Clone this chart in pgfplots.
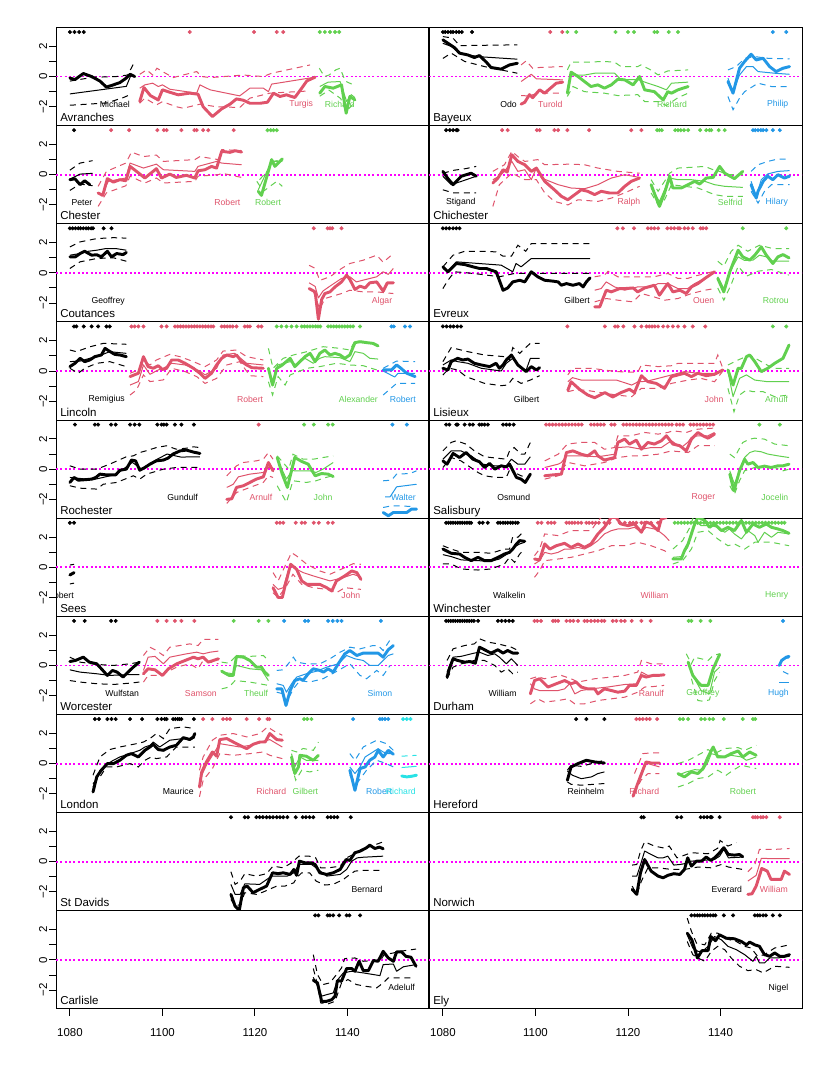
\documentclass[border=0pt]{standalone}
\usepackage{pgfplots}
\pgfplotsset{compat=1.18}
\usepackage{fontspec}
\setmainfont{Liberation Sans}
\definecolor{c2}{HTML}{DF536B}
\definecolor{c3}{HTML}{61D04F}
\definecolor{c4}{HTML}{2297E6}
\definecolor{c5}{HTML}{28E2E5}
\definecolor{mg}{HTML}{FF00FF}
\newcommand{\tkfont}{\fontsize{8.6pt}{10pt}\selectfont}
\newcommand{\pnfont}{\fontsize{8.6pt}{10pt}\selectfont}
\newcommand{\blfont}{\fontsize{6.5pt}{7.5pt}\selectfont}
\pgfplotsset{
 tk/.style={line width=2.2pt,line join=round,line cap=round},
 tn/.style={line width=0.75pt,line join=round},
 ds/.style={line width=0.75pt,dash pattern=on 4.5pt off 3.5pt},
 pan/.style={width=279.75pt,height=73.6pt,scale only axis,xmin=1077,xmax=1157.6,ymin=-3.25,ymax=3.25,
   axis line style={line width=0.75pt},xtick=\empty,ytick=\empty,anchor=north west,clip=true},
 lft/.style={ytick={-2,-1,0,1,2},yticklabels={−2,,0,,2},ytick pos=left,tick align=outside,major tick length=5pt,
   tick style={line width=0.75pt,black},yticklabel style={rotate=90,anchor=south,inner sep=1.4pt,font=\tkfont}},
 bot/.style={xtick={1080,1100,1120,1140},xticklabels={1080,1100,1120,1140},xtick pos=left,tick align=outside,major tick length=5pt,
   tick style={line width=0.75pt,black},xticklabel style={font=\tkfont,yshift=-6pt}},
}
\newcommand{\zl}{\addplot[mg,line width=1.4pt,line cap=butt,dash pattern=on 1.5pt off 1.75pt] coordinates {(1077,0) (1157.6,0)};}
\newcommand{\dts}[2]{\addplot[#1,only marks,mark=*,mark size=1.3pt] coordinates {#2};}
\newcommand{\srs}[5]{\addplot[#1,ds] coordinates {#4};\addplot[#1,ds] coordinates {#5};\addplot[#1,tn] coordinates {#3};\addplot[#1,tk] coordinates {#2};}
\newcommand{\bl}[3]{\node[anchor=east,inner sep=0pt,font=\blfont,text=#1] at (axis cs:#2,-1.85) {#3};}
\newcommand{\pn}[1]{\node[anchor=base west,inner sep=0pt,font=\pnfont,xshift=3pt,yshift=3pt] at (rel axis cs:0,0) {#1};}
\begin{document}
\begin{tikzpicture}
\path[use as bounding box] (0,0) rectangle (622.5pt,799.5pt);
% ---------------- Avranches
\begin{axis}[pan,lft,at={(42pt,778.875pt)}]
\zl
\dts{black}{(1080,2.95)(1081,2.95)(1082,2.95)(1083,2.95)}
\dts{c2}{(1105.9,2.95)(1119.8,2.95)(1124.7,2.95)(1126.1,2.95)}
\dts{c3}{(1134,2.95)(1135.1,2.95)(1136.2,2.95)(1137.3,2.95)(1138.2,2.95)}
\srs{black}{(1080,-0.1)(1081.1,-0.2)(1082.9,0.2)(1084.7,0)(1086.5,-0.3)(1087.9,-0.7)(1089.4,-0.55)(1090.8,-0.4)(1092.2,-0.1)(1093,0.15)(1094,0)}
{(1080,-1.15)(1092.2,-0.65)(1093.2,0.1)}
{(1080,-0.3)(1085,-0.05)(1090,0)(1092.5,0.1)(1094,1.0)}
{(1080,-1.9)(1088,-1.75)(1091.5,-1.4)(1093,-1.2)}
\srs{c2}{(1095.1,-1.65)(1096,-0.73)(1097.4,-1.26)(1099.1,-1.55)(1100,-0.88)(1101.6,-1.04)(1103.4,-1.21)(1105.9,-1.1)(1107.7,-1.17)(1108.8,-2.0)(1110.8,-2.65)(1112.8,-2.14)(1114.6,-1.83)(1116,-1.48)(1117.5,-1.57)(1118.9,-1.77)(1121.1,-1.77)(1122.7,-1.7)(1124,-1.1)(1125.4,-1.32)(1126.8,-1.21)(1128.6,-1.39)(1130.1,-0.77)(1131.2,-0.29)(1133,-0.04)}
{(1095.1,-0.77)(1096.2,-0.55)(1097.9,-0.44)(1099.1,-0.66)(1100,-0.55)(1101.6,-0.84)(1107.4,-1.1)(1108.1,-0.55)(1110.3,-0.88)(1116.7,-1.28)(1118.9,-0.77)(1121.8,-0.77)(1122.9,-1.0)(1123.6,-0.5)(1133,-0.04)}
{(1095.1,0.15)(1096.6,0.44)(1097.9,0.1)(1098.8,0.55)(1102.3,-0.07)(1107.4,0.33)(1108.5,0)(1110.3,-0.07)(1117.5,0.1)(1121.8,0)(1123.6,0.22)(1131.9,0.77)}
{(1095.1,-1.77)(1096.2,-1.43)(1098.7,-1.88)(1100,-1.66)(1103,-2.0)(1104.5,-2.1)(1108.1,-1.83)(1111.7,-2.0)(1116.7,-2.05)(1118.9,-1.43)(1123.2,-1.1)(1131.9,-0.95)}
\srs{c3}{(1134,-1.1)(1135.1,-0.66)(1136.9,-0.77)(1138.7,-0.55)(1139.7,-2.43)(1140.5,-1.32)(1141.6,-1.55)}
{(1134,-0.66)(1135.8,-0.37)(1138.4,-0.33)(1139.8,-1.65)(1140.8,-1.2)(1141.6,-1.4)}
{(1133.9,0.55)(1135,0)(1136,0.1)(1137.5,0.45)(1138.4,0.55)(1139.5,-0.3)(1141.6,-0.6)}
{(1134,-1.3)(1136,-0.9)(1138.5,-1.45)(1139.7,-2.3)(1141.6,-1.7)}
\bl{black}{1093}{Michael}\bl{c2}{1132.6}{Turgis}\bl{c3}{1141.6}{Richard}
\pn{Avranches}
\end{axis}
% ---------------- Bayeux
\begin{axis}[pan,at={(321.75pt,778.875pt)}]
\zl
\dts{black}{(1080,2.95)(1080.5,2.95)(1081.1,2.95)(1081.7,2.95)(1082.2,2.95)(1082.9,2.95)(1083.5,2.95)(1084.1,2.95)(1086.3,2.95)}
\dts{c2}{(1103.2,2.95)(1105.8,2.95)}
\dts{c3}{(1106.9,2.95)(1108.8,2.95)(1117.3,2.95)(1120,2.95)(1121.3,2.95)(1125.7,2.95)(1126.3,2.95)(1128.8,2.95)(1130.8,2.95)}
\dts{c4}{(1151.3,2.95)(1154.2,2.95)}
\srs{black}{(1080,2.43)(1081.1,2.2)(1082.5,1.92)(1083.6,1.55)(1085.4,1.43)(1086.8,1.26)(1087.9,1.39)(1089.4,0.95)(1090.4,0.6)(1092.6,0.49)(1094.4,0.77)(1096.1,0.88)}
{(1080,2.2)(1081.8,2.0)(1083.6,1.55)(1087.6,1.32)(1096.1,1.15)}
{(1080,2.65)(1082.2,2.54)(1083.6,2.05)(1096.1,2.1)}
{(1080,1.2)(1081.8,1.55)(1084.7,1.0)(1089,0.66)(1096.1,0.22)}
\srs{c2}{(1096.9,-1.83)(1097.7,-1.7)(1098.7,-1.2)(1099.4,-1.4)(1100.9,-0.88)(1102,-1.1)(1103.4,-0.73)(1104.5,-0.44)(1105.9,-0.37)}
{(1096.9,-0.33)(1099.1,0.15)(1100.2,-0.15)(1105.9,-0.22)}
{(1096.9,0.77)(1098,1.04)(1099.4,0.55)(1100.9,0.6)(1105.9,0.66)}
{(1096.9,-1.26)(1098.3,-1.28)(1100.9,-1.1)(1105.9,-1.1)}
\srs{c3}{(1106.9,-1.1)(1107.7,0.29)(1109.2,0)(1110.6,-0.33)(1112,-0.66)(1113.5,-0.55)(1114.9,-0.77)(1116.4,-0.55)(1117.8,-0.18)(1119.3,-0.22)(1121.1,-0.55)(1122.5,0)(1123.6,-0.88)(1125.7,-1.0)(1127.6,-1.55)(1128.6,-1.0)(1129.4,-1.1)(1130.8,-0.88)(1133,-0.66)}
{(1106.9,-0.88)(1107.7,0.1)(1110.6,0.1)(1112.8,0.22)(1117.1,0.22)(1118.5,-0.2)(1122.1,-0.2)(1124.3,-0.44)(1126.5,-0.66)(1128.3,-0.88)(1129.4,-0.44)(1133,-0.37)}
{(1106.9,0.44)(1107.7,0.95)(1110.6,0.95)(1114.9,1.0)(1117.1,0.95)(1118.5,0.66)(1122.1,0.66)(1122.8,0.77)(1124.9,0.44)(1126.5,0.11)(1128.6,0.37)(1133,0.44)}
{(1106.9,-1.32)(1108.1,-0.66)(1110.6,-1.0)(1114.9,-1.1)(1117.8,-1.26)(1122.1,-1.2)(1123.6,-1.66)(1126.5,-1.66)(1128.3,-1.92)(1130.8,-1.4)(1133,-1.1)}
\srs{c4}{(1141.6,-0.33)(1142.7,-1.1)(1144.1,0.55)(1145.2,1.0)(1146.6,1.48)(1147.7,1.1)(1149.2,1.21)(1150.6,0.66)(1152,0.33)(1153.5,0.55)(1154.9,0.66)}
{(1141.6,-0.11)(1142.7,-1.0)(1144.1,0.1)(1145.6,0.66)(1147,0.66)(1148.1,0.33)(1151.7,0.22)(1154.9,0.15)}
{(1141.6,0.44)(1143.4,0.66)(1145.2,1.2)(1147.4,1.32)(1150.2,1.21)(1154.9,1.17)}
{(1141.6,-1.32)(1142.7,-2.2)(1144.1,-1.43)(1145.2,-1.0)(1148.1,-0.44)(1151,-0.66)(1154.9,-0.66)}
\bl{black}{1096}{Odo}\bl{c2}{1105.9}{Turold}\bl{c3}{1132.8}{Richard}\bl{c4}{1154.7}{Philip}
\pn{Bayeux}
\end{axis}
% ---------------- Chester
\begin{axis}[pan,lft,at={(42pt,705.26pt)}]
\zl
\dts{black}{(1080.9,2.95)}
\dts{c2}{(1088.9,2.95)(1092.8,2.95)(1098.9,2.95)(1100.3,2.95)(1100.9,2.95)(1104.1,2.95)(1106.9,2.95)(1107.4,2.95)(1108.8,2.95)(1109.9,2.95)(1115.4,2.95)}
\dts{c3}{(1122.7,2.95)(1123.4,2.95)(1124,2.95)(1124.7,2.95)}
\srs{black}{(1080,-0.33)(1081.1,-0.27)(1082.2,-0.66)(1083.2,-0.4)(1084.3,-0.66)}
{(1080,-0.3)(1082.2,0.04)(1084.9,0.09)}
{(1080,0.3)(1082.2,0.77)(1084.9,0.93)}
{(1080,-1.04)(1082.2,-0.62)(1084.9,-0.73)}
\srs{c2}{(1086.1,-1.21)(1087.1,-1.37)(1088.1,-0.26)(1089.4,-0.49)(1090.8,-0.33)(1092.1,-0.4)(1093,0.55)(1094.4,0.22)(1096.2,-0.22)(1098.7,0.4)(1099.8,-0.22)(1101.6,0.04)(1103,-0.18)(1105.2,-0.04)(1107,-0.22)(1107.7,0.26)(1109.2,0.33)(1110.6,0.55)(1111.7,0.44)(1112.8,1.55)(1114.6,1.48)(1115.7,1.59)(1117.1,1.5)}
{(1087.1,-1.21)(1088.3,-0.44)(1092.1,-0.22)(1093,0.77)(1095.9,0.44)(1098.7,0.7)(1100.2,0.33)(1107,0.22)(1107.7,0.55)(1111.7,0.88)(1112.8,0.77)(1117.1,0.66)}
{(1086.1,-0.77)(1087.9,0.22)(1092.1,0.77)(1093.3,1.5)(1095.9,1.2)(1098.7,1.3)(1100.2,0.88)(1107,1.0)(1108.1,1.2)(1112.1,1.0)(1112.8,1.66)(1117.1,1.6)}
{(1086.1,-2.1)(1087.9,-1.2)(1092.1,-0.73)(1093,-0.1)(1096.2,-0.55)(1098.7,-0.22)(1100.2,-0.55)(1107,-0.44)(1107.7,-0.1)(1112.1,0)(1112.8,0.1)(1117.1,-0.18)}
\srs{c3}{(1120.7,-1.1)(1121.4,-1.37)(1123.6,1.0)(1124.3,0.55)(1125.9,1.04)}
{(1120.7,-1.0)(1123.6,0.88)(1125.9,0.88)}
{(1121,-0.33)(1123.2,0.44)(1124,0.88)(1125.9,1.0)}
{(1120.4,-0.44)(1121.8,-1.1)(1124.7,-0.44)(1125.9,-0.77)}
\bl{black}{1084.9}{Peter}\bl{c2}{1116.9}{Robert}\bl{c3}{1125.7}{Robert}
\pn{Chester}
\end{axis}
% ---------------- Chichester
\begin{axis}[pan,at={(321.75pt,705.26pt)}]
\zl
\dts{black}{(1080.7,2.95)(1081.5,2.95)(1082.2,2.95)(1082.9,2.95)(1083.2,2.95)}
\dts{c2}{(1092.8,2.95)(1094,2.95)(1100.3,2.95)(1100.9,2.95)(1104.1,2.95)(1104.9,2.95)(1106.9,2.95)(1111.6,2.95)(1120.7,2.95)(1122.9,2.95)}
\dts{c3}{(1126.3,2.95)(1126.8,2.95)(1127.3,2.95)(1130.2,2.95)(1130.8,2.95)(1131.4,2.95)(1132.1,2.95)(1133,2.95)(1135.6,2.95)(1136.9,2.95)(1137.6,2.95)(1138,2.95)(1139.6,2.95)(1140.9,2.95)}
\dts{c4}{(1147,2.95)(1147.5,2.95)(1148.1,2.95)(1148.7,2.95)(1149.2,2.95)(1149.9,2.95)(1151.3,2.95)(1152.8,2.95)}
\srs{black}{(1080,0.22)(1081,-0.22)(1082.2,-0.66)(1084,-0.1)(1086.1,0.1)(1087.2,-0.1)}
{(1080,-0.1)(1081.8,-0.66)(1084,-0.44)(1087.2,-0.1)}
{(1080,0.1)(1082.5,0.3)(1084.9,0.4)(1087.2,0.55)}
{(1080,-1.0)(1082.2,-1.2)(1087.2,-1.2)}
\srs{c2}{(1090.8,-0.55)(1091.9,-0.22)(1093,0.33)(1093.9,0.18)(1094.9,1.32)(1096.2,0.88)(1097.7,0.66)(1099.1,0.22)(1100.2,0.44)(1102,-0.44)(1104.1,-1.0)(1105.6,-1.43)(1107,-1.66)(1108.5,-1.32)(1109.9,-1.0)(1111.3,-1.1)(1112.8,-1.32)(1114.2,-1.1)(1116,-1.21)(1117.8,-1.21)(1119.3,-0.77)(1120.7,-0.44)(1122.5,-0.22)}
{(1090.8,-0.33)(1092.2,-0.1)(1093.3,0.22)(1094.9,0.88)(1096.2,0.22)(1097.7,0.33)(1099.1,-0.33)(1100.2,0.44)(1101.3,-0.22)(1104.9,-0.66)(1107.7,-0.88)(1110.6,-0.93)(1113.5,-0.66)(1116.4,-0.22)(1119.3,0)(1122.5,-0.18)}
{(1090.8,0.22)(1093.3,0.66)(1094.9,1.55)(1096.2,1.2)(1097.7,0.88)(1100.5,1.0)(1102,0.66)(1107.7,0.7)(1110.6,0.66)(1113.5,0.44)(1117.8,0.22)(1122.5,0.1)}
{(1090.8,-2.1)(1092.2,-0.66)(1094.9,0.1)(1097.7,-0.33)(1100.2,-0.33)(1102,-1.2)(1104.1,-1.77)(1107,-2.0)(1109.2,-1.66)(1113.5,-1.77)(1116.4,-1.55)(1119.3,-1.2)(1122.5,-0.77)}
\srs{c3}{(1125,-0.66)(1126.1,-1.55)(1126.8,-2.1)(1127.9,-1.21)(1129,-0.1)(1129.7,-0.88)(1131.5,-0.88)(1133,-0.66)(1134.4,-0.44)(1135.5,-0.62)(1136.9,-0.22)(1138.4,-0.18)(1139.8,0.55)(1140.9,0.1)(1143,-0.26)(1144.8,0.22)}
{(1125,-0.88)(1126.8,-1.77)(1129,-0.22)(1130.8,-0.33)(1133.7,-0.33)(1136.6,-0.44)(1138.7,-0.66)(1140.9,-0.77)(1144.8,-0.84)}
{(1125,-0.33)(1126.5,-1.1)(1127.9,-0.44)(1129,0.1)(1130.8,0.44)(1133.7,0.49)(1136.6,0.55)(1138.4,0.33)(1139.8,0.22)(1141.6,0)(1144.8,0)}
{(1125,-1.21)(1126.5,-2.0)(1127.9,-1.66)(1129.4,-0.66)(1132.2,-0.77)(1135.1,-0.88)(1136.9,-1.1)(1138.7,-1.32)(1140.9,-1.43)(1144.8,-1.43)}
\srs{c4}{(1146.6,-0.66)(1147.7,-1.55)(1148.1,-1.1)(1149.2,-0.44)(1150.2,-0.1)(1151.3,-0.33)(1152.4,0)(1153.8,-0.22)(1154.9,-0.1)}
{(1146.6,-0.44)(1147.7,-1.43)(1148.8,-0.33)(1150.2,0.05)(1152.4,0.22)(1154.9,0.27)}
{(1146.6,0.22)(1148.1,0.66)(1150.2,0.88)(1152.4,1.04)(1154.9,1.04)}
{(1146.6,-1.1)(1148.1,-1.88)(1149.5,-1.1)(1151,-0.66)(1154.9,-0.66)}
\bl{black}{1087.1}{Stigand}\bl{c2}{1122.7}{Ralph}\bl{c3}{1144.8}{Selfrid}\bl{c4}{1154.6}{Hilary}
\pn{Chichester}
\end{axis}
% ---------------- Coutances
\begin{axis}[pan,lft,at={(42pt,631.65pt)}]
\zl
\dts{black}{(1080,2.95)(1080.6,2.95)(1081.2,2.95)(1081.8,2.95)(1082.3,2.95)(1082.9,2.95)(1083.5,2.95)(1084,2.95)(1084.6,2.95)(1085,2.95)(1087.3,2.95)(1089,2.95)}
\dts{c2}{(1132.7,2.95)(1135.7,2.95)(1136.2,2.95)(1136.7,2.95)(1138.7,2.95)}
\srs{black}{(1080,1.06)(1081.2,1.06)(1082.2,1.28)(1083.2,1.43)(1084.7,1.17)(1085.8,1.2)(1086.8,1.06)(1088.1,1.43)(1089,1.06)(1090.1,1.28)(1091.5,1.21)(1092.2,1.35)}
{(1080,1.17)(1082.2,1.28)(1084,1.43)(1085.8,1.5)(1087.6,1.6)(1090.1,1.6)(1092.2,1.5)}
{(1080,1.72)(1082.2,2.05)(1085.8,2.27)(1089.4,2.33)(1092.2,2.3)}
{(1080,0.29)(1082.2,0.73)(1085.8,0.95)(1089.4,1.0)(1092.2,0.77)}
\srs{c2}{(1131.7,-1.04)(1133,-1.26)(1133.7,-3.07)(1134.4,-1.77)(1135.1,-1.37)(1136.2,-1.26)(1137.3,-0.93)(1138.7,-0.6)(1139.8,-0.15)(1140.5,-0.44)(1141.6,-1.1)(1142.7,-0.88)(1143.8,-1.0)(1144.8,-0.66)(1146.3,-0.6)(1147.7,-1.21)(1148.6,-0.66)(1149.9,-0.66)}
{(1131.7,-0.66)(1133,-0.9)(1133.7,-1.66)(1134.7,-1.2)(1136.2,-0.88)(1138.7,-0.37)(1140.5,-0.26)(1141.9,-0.6)(1143.4,-0.48)(1146.3,-0.26)(1147.7,0.07)(1148.8,-0.1)(1149.9,0.29)}
{(1131.7,0.5)(1133,0.3)(1134,-0.5)(1136.2,-0.26)(1138.7,0.29)(1140.5,0.62)(1143.4,0.84)(1146.3,1.17)(1147.7,0.7)(1149.9,1.28)}
{(1132.6,-1.21)(1134,-2.4)(1135.1,-1.7)(1138.7,-1.37)(1140.5,-1.15)(1143.4,-1.26)(1146.3,-1.26)(1149.9,-1.37)}
\bl{black}{1091.9}{Geoffrey}\bl{c2}{1149.7}{Algar}
\pn{Coutances}
\end{axis}
% ---------------- Evreux
\begin{axis}[pan,at={(321.75pt,631.65pt)}]
\zl
\dts{black}{(1080,2.95)(1080.7,2.95)(1081.4,2.95)(1082.2,2.95)(1082.9,2.95)(1083.6,2.95)}
\dts{c2}{(1117.7,2.95)(1118.9,2.95)(1121.3,2.95)(1124.3,2.95)(1125,2.95)(1125.7,2.95)(1126.5,2.95)(1128.5,2.95)(1129.3,2.95)(1130,2.95)(1130.8,2.95)(1131.2,2.95)(1132.2,2.95)(1133,2.95)(1134,2.95)(1135.7,2.95)(1136.2,2.95)(1136.9,2.95)}
\dts{c3}{(1144.8,2.95)(1154.2,2.95)}
\srs{black}{(1080,0.4)(1081.1,0.07)(1082.9,0.62)(1084.7,0.55)(1086.5,0.4)(1087.9,0.29)(1089.4,0.29)(1090.4,0.18)(1091.5,0.07)(1092.2,-0.49)(1093,-1.15)(1094,-1.0)(1095.1,-0.6)(1096.6,-0.49)(1097.7,-0.6)(1099.1,0.07)(1100.5,-0.26)(1102,-0.49)(1103.8,-0.55)(1104.9,-0.6)(1105.6,-0.82)(1106.7,-0.71)(1108.1,-0.82)(1109.5,-0.71)(1110.3,-0.93)(1111,-0.6)(1111.8,-0.33)}
{(1080,0.29)(1081.1,0.07)(1082.9,0.73)(1092.6,0.51)(1095.1,0.07)(1095.8,0.62)(1096.9,0.4)(1099.1,0.95)(1111.8,0.95)}
{(1080,0.4)(1082.2,1.17)(1084.7,1.43)(1088.3,1.43)(1091.5,1.39)(1093,1.1)(1094.8,1.1)(1096.2,1.83)(1097.9,1.43)(1099.1,1.94)(1111.8,1.94)}
{(1080,-1.04)(1081.1,-0.49)(1082.5,0.07)(1084.7,0.02)(1088.5,-0.11)(1092.2,-0.26)(1095.5,-0.04)(1099.1,-0.04)(1111.8,-0.04)}
\srs{c2}{(1112.8,-2.25)(1113.9,-2.25)(1115.3,-1.15)(1116.4,-1.26)(1118.2,-1.04)(1119.3,-1.04)(1121.1,-1.0)(1122.1,-1.26)(1123.6,-1.0)(1125.7,-0.82)(1126.8,-1.48)(1127.9,-1.0)(1128.6,-0.71)(1129.7,-1.26)(1131.2,-1.15)(1132.6,-1.37)(1133.7,-0.93)(1135.1,-0.71)(1136.6,-0.37)(1138.7,0.07)}
{(1112.8,-1.15)(1114.2,-1.04)(1115.3,-0.6)(1117.1,-0.93)(1119.3,-1.15)(1122.1,-0.93)(1125,-0.93)(1126.5,-0.71)(1128.6,-0.71)(1130.8,-1.04)(1132.9,-1.04)(1134.4,-0.71)(1136.6,-0.37)(1138.7,0.07)}
{(1112.8,-0.26)(1114.9,-0.15)(1115.7,0.1)(1117.8,-0.26)(1122.1,-0.26)(1125.7,-0.26)(1128.6,-0.04)(1130.8,-0.37)(1132.9,-0.37)(1134.4,-0.22)(1138.7,0.11)}
{(1112.8,-1.92)(1115.3,-1.7)(1117.8,-1.81)(1121.1,-1.92)(1122.9,-1.37)(1125.7,-1.6)(1127.9,-1.81)(1130.8,-1.7)(1133.7,-1.37)(1136.6,-1.15)(1138.7,-1.04)}
\srs{c3}{(1139.4,-0.37)(1140.7,-1.26)(1142,0.07)(1143.8,1.5)(1144.8,1.06)(1146.3,0.84)(1147.4,1.17)(1148.8,1.72)(1149.9,1.17)(1151.3,0.62)(1152.4,1.06)(1153.5,1.21)(1154.8,0.99)}
{(1139.4,-0.26)(1140.7,-1.04)(1142,0.07)(1143.8,1.06)(1145.2,0.82)(1147,0.84)(1148.4,1.17)(1149.9,1.06)(1151.3,0.77)(1154.8,0.77)}
{(1139.4,0.77)(1140.7,0.44)(1142.3,1.43)(1143.8,1.83)(1145.9,1.43)(1148.4,1.83)(1151.3,1.61)(1154.8,1.61)}
{(1139.4,-1.0)(1140.7,-1.81)(1142.3,-0.77)(1143.8,0.44)(1145.6,-0.22)(1148.1,0.11)(1151,0.22)(1154.8,-0.15)}
\bl{black}{1111.8}{Gilbert}\bl{c2}{1138.7}{Ouen}\bl{c3}{1154.8}{Rotrou}
\pn{Evreux}
\end{axis}
% ---------------- Lincoln
\begin{axis}[pan,lft,at={(42pt,558.04pt)}]
\zl
\dts{black}{(1080.9,2.95)(1081.4,2.95)(1083,2.95)(1084.7,2.95)(1086.1,2.95)(1087.9,2.95)(1088.6,2.95)}
\dts{c2}{(1093.3,2.95)(1094,2.95)(1094.8,2.95)(1095.9,2.95)(1099.8,2.95)(1100.9,2.95)(1102.7,2.95)(1103.3,2.95)(1103.9,2.95)(1104.5,2.95)(1105.1,2.95)(1105.7,2.95)(1106.3,2.95)(1106.9,2.95)(1107.5,2.95)(1108.1,2.95)(1108.7,2.95)(1109.3,2.95)(1109.9,2.95)(1110.5,2.95)(1111,2.95)(1112.8,2.95)(1113.4,2.95)(1114,2.95)(1114.6,2.95)(1115.2,2.95)(1116,2.95)(1117.8,2.95)(1118.4,2.95)(1118.9,2.95)(1120.7,2.95)(1121.4,2.95)}
\dts{c3}{(1124.7,2.95)(1125.7,2.95)(1126.8,2.95)(1127.9,2.95)(1129,2.95)(1130.1,2.95)(1130.7,2.95)(1131.3,2.95)(1131.9,2.95)(1132.5,2.95)(1133.1,2.95)(1133.6,2.95)(1134.1,2.95)(1135.8,2.95)(1136.4,2.95)(1137,2.95)(1137.6,2.95)(1138.2,2.95)(1138.8,2.95)(1139.4,2.95)(1140,2.95)(1140.6,2.95)(1141.2,2.95)(1142.7,2.95)}
\dts{c4}{(1149.5,2.95)(1150,2.95)(1152.4,2.95)(1153.5,2.95)}
\srs{black}{(1080,0.29)(1081.1,0.51)(1082.2,0.84)(1083.2,0.62)(1084.3,0.73)(1085.4,0.95)(1086.8,1.06)(1087.6,1.5)(1088.6,1.3)(1089.7,1.1)(1090.8,1.06)(1092.2,0.95)}
{(1080,0.62)(1082.2,0.66)(1084.3,0.84)(1086.8,1.06)(1088.6,1.28)(1092.2,1.17)}
{(1080,1.39)(1081.4,1.28)(1084.3,1.6)(1087.2,1.83)(1092.2,1.77)}
{(1080,0.18)(1081.8,-0.15)(1083.2,0.18)(1085.8,0.51)(1088.6,0.62)(1092.2,0.29)}
\srs{c2}{(1093,-0.37)(1094.8,-0.15)(1095.9,0.95)(1096.9,0.29)(1098,0.18)(1099.1,0.35)(1100,0.1)(1100.9,0.18)(1102,0.73)(1103.4,0.73)(1104.9,0.51)(1106.7,0.18)(1108.1,-0.15)(1109.2,-0.49)(1110.6,-0.15)(1111.7,0.4)(1112.8,0.84)(1113.9,1.06)(1115.3,0.95)(1116,1.06)(1117.1,0.62)(1118.2,0.4)(1119.3,0.22)(1121.8,0.18)}
{(1093,-0.93)(1094.8,-0.7)(1095.9,0.4)(1097.3,-0.22)(1099.1,0.07)(1100.2,0.18)(1102,0.51)(1104.9,0.4)(1108.1,0)(1109.2,-0.26)(1111.7,0.18)(1113.1,1.06)(1115.6,1.17)(1118.2,0.51)(1121.8,0.4)}
{(1093,-0.15)(1094.8,0.07)(1096.2,0.62)(1097.3,0.4)(1098.7,0.73)(1101.6,1.1)(1103.8,0.95)(1106.7,0.62)(1109.2,0.29)(1111.7,0.73)(1113.1,1.32)(1116,1.39)(1118.2,0.95)(1121.8,0.73)}
{(1093,-1.59)(1094.4,-1.26)(1095.9,-0.26)(1097.3,-0.7)(1100.2,-0.59)(1102,0.18)(1104.9,-0.04)(1107.4,-0.37)(1109.2,-0.82)(1111.7,-0.49)(1113.9,0.4)(1116.7,0.62)(1118.9,-0.31)(1121.8,-0.37)}
\srs{c3}{(1122.9,0.18)(1123.8,-0.93)(1124.7,0.18)(1125.7,0.35)(1127.6,0.84)(1128.6,0.29)(1129.7,0.62)(1130.8,0.95)(1131.9,1.17)(1133,0.62)(1134,1.17)(1135.1,1.39)(1136.2,1.06)(1137.3,1.17)(1138.4,1.06)(1139.4,0.84)(1140.5,1.06)(1141.6,1.88)(1142.7,1.94)(1144.1,1.88)(1145.5,1.83)(1146.6,1.66)}
{(1122.9,0.07)(1123.8,-0.71)(1124.9,0.4)(1127.6,0.62)(1129,0.4)(1130.8,0.84)(1132.6,0.51)(1134,0.84)(1135.1,0.95)(1138.4,0.88)(1140.5,0.62)(1141.6,1.28)(1143.4,1.17)(1144.8,0.84)(1146.6,0.79)}
{(1122.9,1.5)(1123.9,0.18)(1126.1,0.84)(1128.3,1.06)(1131.2,1.28)(1134.7,1.61)(1138.4,1.5)(1140.5,1.39)(1141.6,1.99)(1144.1,1.94)(1146.6,1.72)}
{(1122.9,-0.71)(1123.8,-1.59)(1125,-0.37)(1126.5,-0.93)(1127.6,-0.26)(1131.2,0.18)(1134,0.29)(1137.6,0.51)(1140.5,0.4)(1143.4,0.35)(1146.3,0.07)}
\srs{c4}{(1147.7,0.07)(1149.5,0.07)(1150.6,0.4)(1151.3,0.24)(1152.8,-0.15)(1154.6,-0.37)}
{(1147.7,0.0)(1150.2,-0.4)(1150.9,-0.15)(1154.6,-0.15)}
{(1147.7,0.18)(1150.6,0.66)(1154.6,0.62)}
{(1147.7,-1.59)(1150.6,-0.82)(1154.6,-0.82)}
\bl{black}{1091.9}{Remigius}\bl{c2}{1121.8}{Robert}\bl{c3}{1146.6}{Alexander}\bl{c4}{1154.8}{Robert}
\pn{Lincoln}
\end{axis}
% ---------------- Lisieux
\begin{axis}[pan,at={(321.75pt,558.04pt)}]
\zl
\dts{black}{(1080,2.95)(1080.8,2.95)(1081.6,2.95)(1082.3,2.95)(1083.1,2.95)(1083.9,2.95)}
\dts{c2}{(1106.9,2.95)(1115,2.95)(1117.2,2.95)(1117.8,2.95)(1119,2.95)(1121.4,2.95)(1122.9,2.95)(1124,2.95)(1124.6,2.95)(1125.2,2.95)(1125.8,2.95)(1126.5,2.95)(1127.6,2.95)(1128.6,2.95)(1129.7,2.95)(1130.8,2.95)(1132.2,2.95)(1134,2.95)(1136.7,2.95)}
\dts{c3}{(1151.3,2.95)(1154.2,2.95)}
\srs{black}{(1080,0.18)(1081.1,0.07)(1081.8,0.62)(1083.2,0.84)(1084.3,0.73)(1085.4,0.79)(1086.8,0.51)(1088.3,0.4)(1090.1,0.29)(1091.5,0.51)(1092.2,0.18)(1093,0.4)(1093.7,0.73)(1094.8,1.06)(1096.2,0.4)(1098,-0.04)(1099.1,0.29)(1100.2,0.07)(1100.9,0.22)}
{(1080,0.4)(1081.8,0.73)(1083.2,0.62)(1085.4,0.51)(1088.3,0.18)(1092.6,0)(1093.7,0.51)(1095.1,0.84)(1096.9,0.18)(1098,0.07)(1098.9,0.84)(1100.9,0.84)}
{(1080,0.62)(1081.8,1.55)(1085.4,1.28)(1089,1.06)(1093.3,0.95)(1094.4,0.73)(1095.1,1.55)(1096.6,1.17)(1097.7,1.5)(1098.9,1.83)(1100.9,1.83)}
{(1080,-0.26)(1081.4,0.18)(1083.2,0.07)(1085,-0.37)(1089,-0.82)(1092.6,-0.97)(1094,-0.93)(1095.1,-0.49)(1096.9,-0.82)(1098.9,-0.6)(1100.9,-0.31)}
\srs{c2}{(1107,-1.28)(1107.7,-0.71)(1109.5,-1.21)(1111.3,-1.59)(1112.8,-1.77)(1115,-1.43)(1116.7,-1.72)(1118.5,-1.43)(1120.3,-1.21)(1121.4,-1.43)(1122.9,-0.31)(1124.3,-0.71)(1126.1,-0.82)(1127.9,-1.15)(1129.4,-0.37)(1130.8,-0.26)(1132.2,-0.15)(1133.7,-0.37)(1135.1,-0.15)(1136.9,-0.31)(1138.7,-0.22)(1140.5,0.07)}
{(1107,-0.71)(1108,-0.44)(1109.9,-0.6)(1117.5,-0.6)(1120.8,-0.93)(1122.5,-0.66)(1122.9,-0.71)(1124.3,-0.66)(1126.5,-0.49)(1129.4,-0.26)(1132.2,-0.04)(1135.1,-0.15)(1138.7,-0.15)(1140.5,0.07)}
{(1107,-0.26)(1108,0.18)(1112.1,0.18)(1117.5,-0.04)(1122.1,-0.09)(1122.9,0.4)(1126.5,0.29)(1129.4,0.35)(1130.8,0.51)(1138.7,0.51)(1139.4,1.06)(1140.5,0.18)}
{(1107,-1.37)(1108.5,-1.26)(1110.6,-1.26)(1117.5,-1.59)(1120.8,-1.7)(1122.9,-1.15)(1126.5,-1.15)(1129.4,-0.82)(1133,-0.6)(1135.8,-0.49)(1138.7,-0.71)(1140.5,0)}
\srs{c3}{(1141.6,0.07)(1142.7,-0.93)(1143.8,0.18)(1144.5,0.18)(1145.6,0.95)(1146.3,1.06)(1147.4,0.62)(1148.8,-0.04)(1150.2,0.18)(1151.7,0.51)(1153.5,0.84)(1154.8,1.72)}
{(1141.6,-0.04)(1142.7,-1.7)(1144.1,-0.49)(1145.6,-0.26)(1147.4,-0.6)(1150.2,-0.71)(1154.8,-0.71)}
{(1141.6,0.4)(1143.8,0.73)(1146.3,1.06)(1148.8,0.62)(1151.3,0.18)(1154.8,0.18)}
{(1141.6,-1.15)(1142.9,-2.7)(1144.1,-1.59)(1145.6,-1.26)(1147,-1.37)(1149.2,-1.37)(1151.7,-1.7)(1154.8,-1.59)}
\bl{black}{1100.9}{Gilbert}\bl{c2}{1140.7}{John}\bl{c3}{1154.6}{Arnulf}
\pn{Lisieux}
\end{axis}
% ---------------- Rochester
\begin{axis}[pan,lft,at={(42pt,484.43pt)}]
\zl
\dts{black}{(1081.1,2.95)(1085.4,2.95)(1086.1,2.95)(1088.9,2.95)(1089.9,2.95)(1093,2.95)(1094,2.95)(1095,2.95)(1098.9,2.95)(1099.8,2.95)(1100.3,2.95)(1100.9,2.95)(1102.7,2.95)(1104.1,2.95)(1106.8,2.95)}
\dts{c2}{(1120.8,2.95)}
\dts{c3}{(1130.6,2.95)(1132.7,2.95)(1135.8,2.95)(1136.8,2.95)}
\dts{c4}{(1149.7,2.95)(1152.8,2.95)}
\srs{black}{(1080,-0.88)(1080.9,-0.55)(1081.8,-0.73)(1083.2,-0.7)(1084.7,-0.66)(1085.6,-0.55)(1086.5,-0.33)(1087.9,-0.38)(1089.9,-0.38)(1090.8,-0.07)(1092.2,0)(1093.3,0.6)(1094.2,0.55)(1095.1,-0.07)(1096.2,0.11)(1097.3,0.33)(1098.7,0.55)(1100.2,0.6)(1101.2,0.73)(1102.3,1.0)(1103.8,1.21)(1105.2,1.26)(1106.7,1.13)(1108.1,1.04)}
{(1080,-0.55)(1085,-0.7)(1090,-0.35)(1093.5,0.45)(1095.5,0.0)(1098.5,0.6)(1101,1.0)(1104,0.8)(1108.1,0.82)}
{(1080,0.22)(1082.2,0.0)(1085.8,0.0)(1088.6,0.33)(1092.2,0.82)(1093.7,0.88)(1095.1,1.1)(1096.4,1.21)(1098.7,1.43)(1100.9,1.55)(1103,1.32)(1105.2,1.39)(1106.7,1.48)(1108.1,1.43)}
{(1080,-1.1)(1082.2,-1.26)(1085.8,-1.32)(1087.2,-1.0)(1090.1,-0.88)(1093.7,-0.44)(1095.1,-0.66)(1096.6,-0.33)(1100.2,0)(1103,0.11)(1106.7,0.11)(1108.1,0.11)}
\srs{c2}{(1113.9,-2.0)(1115,-1.96)(1116,-1.21)(1117.5,-1.1)(1118.9,-0.88)(1120.3,-0.66)(1121.8,-0.51)(1122.9,0.44)(1123.9,-0.11)}
{(1113.9,-1.21)(1115.3,-1.0)(1116.4,-0.51)(1118.9,-0.33)(1121.8,-0.22)(1122.9,0.1)(1123.9,0.1)}
{(1113.9,-0.44)(1116,0.22)(1117.5,0.44)(1120.3,0.55)(1121.8,0.66)(1122.9,1.1)(1123.9,0.66)}
{(1113.9,-2.27)(1116,-1.55)(1118.9,-1.21)(1121.8,-0.88)(1122.9,-0.44)(1123.9,-0.55)}
\srs{c3}{(1124.8,0.77)(1125.9,-0.33)(1127,-1.21)(1128.6,0.77)(1130.1,0.51)(1131.5,0.33)(1133,-0.44)(1134.4,-0.29)(1135.8,-0.33)(1136.9,-0.49)}
{(1124.8,0.66)(1126.8,-0.66)(1128,-0.1)(1128.8,-0.11)(1131.8,-0.11)(1133.2,-0.22)(1134.7,0.0)(1136.9,0.44)}
{(1124.8,0.88)(1127.3,0.0)(1128.2,0.99)(1130.4,0.66)(1132.6,0.66)(1134.7,0.77)(1136.9,0.88)}
{(1124.8,-1.1)(1126.8,-2.2)(1128.2,-0.77)(1131.1,-0.88)(1133.2,-0.77)(1135.3,-0.55)(1136.9,-0.44)}
\srs{c4}{(1147.7,-2.87)(1148.8,-3.09)(1149.9,-2.87)(1152.8,-2.87)(1153.8,-2.65)(1154.9,-2.65)}
{(1148.1,-1.83)(1149.2,-1.83)(1150.6,-1.17)(1154.9,-1.0)}
{(1147.7,-0.77)(1149.5,-0.73)(1150.6,-0.33)(1153.5,-0.29)(1154.9,-0.11)}
{(1147.7,-2.54)(1149.5,-2.43)(1151.3,-2.43)(1154.5,-2.49)}
\bl{black}{1107.7}{Gundulf}\bl{c2}{1123.8}{Arnulf}\bl{c3}{1136.8}{John}\bl{c4}{1154.8}{Walter}
\pn{Rochester}
\end{axis}
% ---------------- Salisbury
\begin{axis}[pan,at={(321.75pt,484.43pt)}]
\zl
\dts{black}{(1080.7,2.95)(1081.4,2.95)(1082.9,2.95)(1083.2,2.95)(1084.7,2.95)(1085.8,2.95)(1086.5,2.95)(1087.9,2.95)(1088.4,2.95)(1089,2.95)(1089.7,2.95)(1093,2.95)(1093.7,2.95)(1094.4,2.95)(1095.3,2.95)}
\dts{c2}{(1102.3,2.95)(1103,2.95)(1103.7,2.95)(1104.4,2.95)(1105.1,2.95)(1105.8,2.95)(1106.5,2.95)(1107.2,2.95)(1107.9,2.95)(1108.6,2.95)(1109.3,2.95)(1110,2.95)(1112,2.95)(1112.7,2.95)(1113.4,2.95)(1114.1,2.95)(1114.8,2.95)(1116.4,2.95)(1117.1,2.95)(1119,2.95)(1119.7,2.95)(1120.4,2.95)(1121.1,2.95)(1121.8,2.95)(1122.5,2.95)(1123.2,2.95)(1123.9,2.95)(1124.6,2.95)(1125.3,2.95)(1126,2.95)(1126.7,2.95)(1127.4,2.95)(1128.1,2.95)(1128.8,2.95)(1129.5,2.95)(1130.5,2.95)(1131.2,2.95)(1131.9,2.95)(1133.5,2.95)(1134.2,2.95)(1134.9,2.95)(1135.6,2.95)(1136.3,2.95)(1137,2.95)(1137.7,2.95)(1138.4,2.95)}
\dts{c3}{(1148.4,2.95)(1152.8,2.95)}
\srs{black}{(1080,0.55)(1080.9,0.33)(1082.2,1.04)(1083.6,0.77)(1085,1.1)(1086.5,0.66)(1087.9,0.49)(1089,0.11)(1090.1,0.38)(1091.2,0)(1092.6,0.22)(1093.7,0.15)(1094.4,0.33)(1095.9,-0.55)(1096.9,-0.66)(1097.8,-0.88)(1098.9,-0.33)}
{(1080,0.66)(1081.8,1.21)(1083.9,1.21)(1086.1,0.88)(1088.6,0.33)(1091.2,0.22)(1093.7,0.22)(1094.8,0.66)(1096.2,0.33)(1097.7,0.33)(1098.9,0.82)}
{(1080,1.21)(1081.8,1.77)(1082.9,1.88)(1085,1.66)(1086.8,1.21)(1089,0.82)(1093.7,0.66)(1094.4,1.21)(1095.4,1.43)(1096.9,0.99)(1097.7,0.99)(1098.9,1.77)}
{(1080,0.11)(1081.8,0.77)(1083.9,0.55)(1087.6,-0.22)(1089,-0.44)(1091.5,-0.55)(1093.7,-0.55)(1094.8,0.22)(1095.5,-0.22)(1096.9,-0.44)(1098.4,-0.55)}
\srs{c2}{(1102,-0.44)(1103.8,-0.38)(1105.6,-0.33)(1106.7,1.1)(1108.1,1.21)(1109.9,0.99)(1111.3,0.88)(1112.8,1.21)(1113.5,0.88)(1114.9,0.6)(1117.1,0.77)(1117.8,1.77)(1119.3,1.99)(1120.3,1.66)(1121.8,1.92)(1122.9,1.32)(1124.3,1.77)(1125.7,1.66)(1127.2,1.88)(1128.3,2.21)(1129.7,1.66)(1131.2,1.55)(1132.6,1.21)(1133.7,1.99)(1135.1,2.43)(1136.2,2.21)(1137.3,2.05)(1138.7,2.32)}
{(1102,0.11)(1104.9,0.33)(1105.6,0.44)(1106.7,0.88)(1109.9,0.88)(1113.5,0.82)(1117.1,0.99)(1117.8,1.43)(1120,1.48)(1122.9,1.32)(1125,1.43)(1127.2,1.43)(1128.3,1.66)(1129.4,1.88)(1131.5,1.43)(1132.9,1.77)(1133.7,2.1)(1135.1,2.21)(1137.3,2.21)(1138.7,2.43)}
{(1102,0.55)(1104.9,0.99)(1106.9,1.66)(1109.9,1.77)(1112.8,1.77)(1114.9,1.32)(1117.1,1.43)(1117.8,2.21)(1120.7,2.21)(1123.6,2.43)(1126.5,2.32)(1128.6,2.43)(1129.7,2.54)(1132.6,2.43)(1133.7,2.54)(1135.1,2.65)(1138.7,2.72)}
{(1102,-0.66)(1104.9,-0.44)(1105.6,0)(1107.1,0.44)(1110.6,0.22)(1114.9,0.44)(1117.8,0.77)(1120.7,0.88)(1122.9,0.88)(1126.5,0.99)(1129.4,1.21)(1133,1.1)(1135.1,1.55)(1138.7,1.55)}
\srs{c3}{(1142,-0.33)(1142.9,-1.43)(1144.1,-0.11)(1145.2,0.66)(1145.9,0.33)(1147,0.44)(1148.1,0.11)(1149.5,0.2)(1150.9,0.11)(1152.4,0.22)(1153.5,0.22)(1154.8,0.33)}
{(1142,-0.11)(1143,-1.0)(1144.1,-0.11)(1145.2,0.77)(1146.3,1.1)(1147.4,1.21)(1148.8,1.15)(1150.2,1.0)(1152.4,0.88)(1154.8,0.77)}
{(1142,1.0)(1143,0.77)(1144.8,1.77)(1146.3,1.99)(1147.4,2.05)(1149.5,1.99)(1151.7,1.66)(1154.8,1.55)}
{(1142,-1.1)(1143,-1.66)(1144.1,-0.77)(1145.2,-0.11)(1147.4,0.11)(1149.5,0.22)(1151.7,0.11)(1153.5,-0.11)(1154.8,0)}
\bl{black}{1098.9}{Osmund}\bl{c2}{1138.9}{Roger}\bl{c3}{1154.7}{Jocelin}
\pn{Salisbury}
\end{axis}
% ---------------- Sees
\begin{axis}[pan,lft,at={(42pt,410.81pt)}]
\zl
\dts{black}{(1080,2.95)(1080.9,2.95)}
\dts{c2}{(1124.7,2.95)(1125.4,2.95)(1126.1,2.95)(1128.8,2.95)(1130.1,2.95)(1130.8,2.95)(1132.7,2.95)(1133.8,2.95)(1135.8,2.95)(1136.8,2.95)}
\srs{black}{(1080,-0.51)(1080.9,-0.35)}
{(1080,-0.45)(1080.9,-0.4)}
{(1080,0.15)(1080.9,0.2)}
{(1080,-1.1)(1080.9,-1.05)}
\srs{c2}{(1123.9,-1.35)(1125,-2.0)(1125.9,-2.0)(1126.8,-0.86)(1127.7,0.2)(1129,-0.13)(1130.1,-0.9)(1131.2,-1.13)(1132.6,-1.13)(1134,-1.13)(1135.5,-1.35)(1136.6,-1.57)(1137.6,-0.9)(1139.4,-0.57)(1140.9,-0.24)(1142,-0.35)(1142.9,-0.8)}
{(1123.9,-1.13)(1125,-1.46)(1126.1,-1.35)(1127.2,-0.24)(1127.9,0.2)(1129,-0.13)(1130.4,-0.35)(1132.6,-0.57)(1136.2,-0.9)(1139.1,-0.68)(1141.2,-0.46)(1142.9,-0.64)}
{(1123.9,-0.35)(1125,-0.9)(1126.5,0.09)(1127.9,0.97)(1129,0.75)(1131.2,0.2)(1134,-0.24)(1136.2,-0.46)(1139.4,-0.02)(1141.2,0.24)(1142.9,0.2)}
{(1123.9,-1.68)(1125,-2.0)(1126.8,-1.24)(1128.2,-0.46)(1130.1,-1.13)(1132.6,-1.35)(1135.5,-1.46)(1137.6,-1.68)(1139.4,-1.35)(1142.9,-1.46)}
\bl{black}{1080.9}{Robert}\bl{c2}{1142.8}{John}
\pn{Sees}
\end{axis}
% ---------------- Winchester
\begin{axis}[pan,at={(321.75pt,410.81pt)}]
\zl
\dts{black}{(1080.7,2.95)(1081.2,2.95)(1081.7,2.95)(1082.2,2.95)(1082.7,2.95)(1083.2,2.95)(1083.7,2.95)(1084.2,2.95)(1084.7,2.95)(1085.2,2.95)(1085.7,2.95)(1086.1,2.95)(1087.9,2.95)(1088.6,2.95)(1089.7,2.95)(1091.9,2.95)(1092.4,2.95)(1093,2.95)(1093.5,2.95)(1094,2.95)(1094.6,2.95)(1095.1,2.95)(1095.7,2.95)(1096.2,2.95)}
\dts{c2}{(1100.5,2.95)(1101.3,2.95)(1102.7,2.95)(1103.4,2.95)(1104.1,2.95)(1106.7,2.95)(1107.3,2.95)(1107.9,2.95)(1108.5,2.95)(1109.2,2.95)(1109.9,2.95)(1111,2.95)(1111.6,2.95)(1112.3,2.95)(1113,2.95)(1113.7,2.95)(1114.9,2.95)(1116,2.95)(1118.2,2.95)(1119.3,2.95)(1120.4,2.95)(1121.1,2.95)(1121.8,2.95)(1122.9,2.95)(1123.6,2.95)(1125,2.95)(1126.5,2.95)}
\dts{c3}{(1130.1,2.95)(1130.8,2.95)(1131.5,2.95)(1132.2,2.95)(1132.9,2.95)(1133.6,2.95)(1134.3,2.95)(1135,2.95)(1135.7,2.95)(1136.4,2.95)(1137.1,2.95)(1137.8,2.95)(1138.5,2.95)(1139.2,2.95)(1139.9,2.95)(1140.6,2.95)(1141.3,2.95)(1142,2.95)(1142.7,2.95)(1143.4,2.95)(1144.1,2.95)(1144.8,2.95)(1145.5,2.95)(1146.2,2.95)(1146.9,2.95)(1147.6,2.95)(1148.3,2.95)(1149,2.95)(1149.7,2.95)(1150.4,2.95)(1151.1,2.95)(1151.8,2.95)(1152.5,2.95)(1153.2,2.95)(1153.8,2.95)}
\srs{black}{(1080,1.21)(1081.8,0.93)(1083.6,0.88)(1084.7,0.66)(1086.1,0.44)(1087.6,0.66)(1089,0.44)(1090.4,0.44)(1091.9,0.66)(1093.3,0.88)(1094.4,0.99)(1095.1,1.21)(1095.9,1.55)(1096.6,1.77)(1097.7,1.72)}
{(1080,0.84)(1081.8,0.71)(1084,0.49)(1087.6,0.44)(1090.4,0.4)(1092.2,0.55)(1093.9,0.88)(1095.3,1.32)(1096.6,1.55)(1097.7,1.66)}
{(1080,1.43)(1081.8,1.21)(1084,0.99)(1087.6,0.99)(1090.4,0.93)(1093.3,1.21)(1094.4,1.21)(1095.1,2.03)(1096.2,1.99)(1097.3,2.32)}
{(1080,0.22)(1081.8,0.22)(1084,-0.11)(1087.6,-0.18)(1090.4,-0.11)(1093.3,0.22)(1094.4,0.66)(1095.5,0.33)(1096.6,0.88)(1097.3,1.1)}
\srs{c2}{(1099.8,0.55)(1100.9,0.49)(1102,1.55)(1103.1,1.21)(1104.5,1.43)(1106.3,1.59)(1107.7,1.32)(1109.2,1.55)(1110.6,1.32)(1112,1.55)(1113.5,2.21)(1114.9,2.65)(1116.4,3.31)(1117.4,3.31)(1118.5,2.87)(1120,2.76)(1121.4,2.87)(1122.9,2.32)(1123.9,3.0)(1125,2.87)(1126.5,2.43)(1127.2,3.2)(1128.3,3.3)}
{(1099.8,0.22)(1100.9,0.44)(1102,0.99)(1103.4,0.88)(1104.9,0.99)(1106.3,1.21)(1107.7,1.21)(1109.2,1.32)(1110.6,1.21)(1112,1.43)(1113.5,1.77)(1114.9,2.21)(1116.4,2.43)(1117.8,2.54)(1120,2.54)(1121.4,2.65)(1122.9,2.32)(1123.9,2.65)(1125.7,2.54)(1126.5,2.43)(1127.9,2.1)(1128.9,1.77)}
{(1099.8,0.77)(1100.9,1.21)(1102,2.21)(1104.9,2.1)(1107.7,2.43)(1112,2.43)(1113.5,3.1)(1115,3.5)(1128.9,3.5)}
{(1099.8,-0.66)(1100.9,-0.22)(1102,0.44)(1104.9,0.55)(1107.7,0.66)(1110.6,0.88)(1113.5,1.1)(1116.4,1.43)(1119.3,1.43)(1122.1,1.66)(1125,1.43)(1127.9,1.1)(1128.9,0.88)}
\srs{c3}{(1129.7,0.55)(1131.5,0.55)(1132.2,1.1)(1133,1.55)(1133.7,2.21)(1134.4,2.87)(1135.1,3.31)(1136.6,3.1)(1137.6,2.65)(1138.7,2.87)(1140.2,2.43)(1141.6,2.65)(1143,2.43)(1144.5,3.1)(1145.6,2.32)(1147,2.87)(1148.4,2.65)(1149.9,2.87)(1151,2.65)(1152.4,2.54)(1153.5,2.43)(1154.8,2.25)}
{(1129.7,0.66)(1131.5,0.71)(1132.9,1.32)(1133.7,2.32)(1134.8,2.98)(1135.8,2.76)(1137.9,2.76)(1139.4,2.65)(1140.9,2.32)(1141.9,2.54)(1143,2.21)(1144.5,1.88)(1145.9,2.43)(1147.4,2.1)(1148.1,1.66)(1149.5,2.32)(1151,1.99)(1152.4,2.32)(1154.8,2.21)}
{(1129.7,1.21)(1131.8,1.77)(1133.3,2.6)(1134.2,3.4)}
{(1129.7,0.22)(1131.8,0.44)(1133.7,1.21)(1135.1,2.32)(1137.3,2.43)(1139.4,1.88)(1141.6,1.43)(1143,1.55)(1145.2,1.21)(1147.4,1.66)(1151,1.66)(1154.8,1.43)}
\bl{black}{1097.9}{Walkelin}\bl{c2}{1128.8}{William}\bl{c3}{1154.7}{Henry}
\pn{Winchester}
\end{axis}
% ---------------- Worcester
\begin{axis}[pan,lft,at={(42pt,337.2pt)}]
\zl
\dts{black}{(1080.9,2.95)(1083.2,2.95)(1088.9,2.95)(1089.9,2.95)}
\dts{c2}{(1098.9,2.95)(1100.9,2.95)(1102.7,2.95)(1104.1,2.95)(1106.9,2.95)}
\dts{c3}{(1115.4,2.95)(1120.8,2.95)(1122.9,2.95)}
\dts{c4}{(1126.3,2.95)(1130.8,2.95)(1131.5,2.95)(1135.8,2.95)(1136.8,2.95)(1137.8,2.95)(1138.7,2.95)(1147.2,2.95)}
\srs{black}{(1080,0.26)(1081.2,0.33)(1082.9,0.55)(1084.2,0.22)(1085.8,0.11)(1086.8,-0.22)(1088.1,-0.66)(1089.2,-0.33)(1090.2,-0.44)(1091.5,-0.77)(1092.2,-0.55)(1093.7,-0.11)(1095,0.22)}
{(1080,-0.29)(1082.2,-0.44)(1085.8,-0.55)(1088.6,-0.66)(1091.5,-0.62)(1095,-0.6)}
{(1080,0.55)(1082.2,0.22)(1085.8,0.07)(1089.4,0)(1093,0.11)(1095,0.22)}
{(1080,-1.0)(1082.2,-1.1)(1085.8,-1.21)(1089.4,-1.26)(1093,-1.17)(1095,-1.1)}
\srs{c2}{(1095.9,-0.55)(1096.9,-0.22)(1098.4,-0.29)(1100,-0.66)(1101.3,-0.22)(1103.1,0.11)(1104.9,0.33)(1106.7,0.55)(1107.7,0.44)(1108.8,0.55)(1109.9,0.22)(1111,0.33)(1112.1,0.44)}
{(1095.9,-0.33)(1096.9,0.55)(1098.4,0.6)(1100.2,0.11)(1101.6,0.55)(1105.2,0.77)(1107.4,0.88)(1108.8,0.77)(1110.3,0.88)(1112.1,0.95)}
{(1095.9,0.66)(1097.3,1.21)(1098.7,0.99)(1100.2,0.66)(1101.6,1.21)(1105.9,1.43)(1107.7,1.32)(1108.8,1.72)(1112.1,1.72)}
{(1095.9,-1.1)(1096.9,-0.66)(1098.7,-0.66)(1100.2,-0.55)(1103.1,-0.11)(1105.9,0.11)(1107.7,-0.22)(1108.8,0.33)(1112.1,0.11)}
\srs{c3}{(1112.8,-0.38)(1114.4,-0.66)(1115.3,-0.66)(1116,0.6)(1117.5,0.55)(1118.9,0.33)(1120.3,-0.11)(1121.4,-0.11)(1122.1,-0.44)(1122.9,-0.66)}
{(1112.8,-0.44)(1115.3,-0.55)(1116,0)(1117.5,-0.11)(1118.9,-0.22)(1121.4,-0.29)(1122.9,-1.0)}
{(1112.8,0.22)(1114.4,0.15)(1116,0.66)(1118.9,0.6)(1121.8,0.66)(1122.9,0.33)}
{(1112.8,-1.55)(1114.4,-1.43)(1115.7,-1.0)(1118.9,-1.1)(1122.9,-1.32)}
\srs{c4}{(1124.7,-1.55)(1125.8,-1.55)(1126.7,-2.65)(1127.6,-1.66)(1128.6,-1.0)(1129.7,-0.88)(1130.4,-0.99)(1131.5,-0.55)(1132.6,-0.22)(1134,-0.33)(1134.8,-0.44)(1135.8,-0.22)(1136.9,-0.44)(1138,0.11)(1139.4,0.77)(1140.5,0.99)(1142,0.66)(1143.4,0.82)(1144.8,0.82)(1146.6,0.82)(1147.7,0.55)(1148.8,1.04)(1149.9,1.32)}
{(1124.7,-1.21)(1126.1,-1.32)(1126.8,-1.77)(1127.9,-1.21)(1129,-0.77)(1131.1,-0.55)(1133.3,-0.38)(1135.5,-0.11)(1138,0.11)(1139.8,0.66)(1141.6,0.44)(1143.4,0.33)(1144.8,0)(1146.6,0)(1147.7,0.33)(1148.8,0.66)(1149.9,0.77)}
{(1124.7,-0.33)(1126,-0.29)(1127.2,0.11)(1128.3,0.55)(1129,0.22)(1131.1,0.11)(1134,0.11)(1136.2,0.44)(1138.4,0.88)(1140.5,1.21)(1142.7,1.1)(1145.5,1.32)(1146.6,1.32)(1147.7,0.99)(1149.2,1.7)(1149.9,1.66)}
{(1124.7,-1.77)(1126.1,-1.88)(1126.8,-2.43)(1128.3,-1.55)(1129.7,-1.0)(1131.8,-1.1)(1134.7,-0.88)(1138,-0.33)(1140.5,0.11)(1142.7,-0.66)(1144.1,-0.88)(1146.3,-0.33)(1147.7,-0.66)(1149.2,0)}
\bl{black}{1095}{Wulfstan}\bl{c2}{1111.8}{Samson}\bl{c3}{1122.9}{Theulf}\bl{c4}{1149.7}{Simon}
\pn{Worcester}
\end{axis}
% ---------------- Durham
\begin{axis}[pan,at={(321.75pt,337.2pt)}]
\zl
\dts{black}{(1080.7,2.95)(1081.2,2.95)(1081.7,2.95)(1082.2,2.95)(1082.7,2.95)(1083.2,2.95)(1083.7,2.95)(1084.2,2.95)(1084.7,2.95)(1085.2,2.95)(1085.7,2.95)(1086.2,2.95)(1086.7,2.95)(1087.6,2.95)(1091.9,2.95)(1092.7,2.95)(1093.5,2.95)(1094.3,2.95)(1095.1,2.95)}
\dts{c2}{(1099.8,2.95)(1100.4,2.95)(1101.2,2.95)(1103.8,2.95)(1104.3,2.95)(1104.9,2.95)(1106.7,2.95)(1107.5,2.95)(1108.2,2.95)(1109.2,2.95)(1110.6,2.95)(1111.2,2.95)(1112,2.95)(1112.8,2.95)(1113.5,2.95)(1114.3,2.95)(1114.9,2.95)(1116.7,2.95)(1117.5,2.95)(1118.5,2.95)(1119.3,2.95)(1120.8,2.95)(1122.9,2.95)(1124.9,2.95)}
\dts{c3}{(1133.1,2.95)(1133.7,2.95)(1135.7,2.95)(1137.8,2.95)}
\dts{c4}{(1153.5,2.95)}
\srs{black}{(1080.9,-0.77)(1081.4,-0.22)(1082.2,0.44)(1083.2,0.33)(1084.7,0.22)(1085.8,0.26)(1087,0.15)(1087.9,1.21)(1089,1.04)(1090.4,0.82)(1091.9,1.04)(1093,0.82)(1094,0.99)(1095.1,0.82)(1096.2,0.82)}
{(1080.9,-0.44)(1082.2,0.55)(1083.9,0.6)(1086.8,0.82)(1087.9,0.88)(1089.7,0.66)(1091.2,0.77)(1092.2,0.55)(1093.7,0.11)(1094.8,0.44)(1096.2,0)}
{(1080.9,0.33)(1082.2,1.1)(1084.7,1.32)(1086.8,1.43)(1087.9,1.77)(1089.7,1.55)(1091.9,1.43)(1094.8,1.21)(1096.2,0.99)}
{(1080.9,-0.88)(1082.2,-0.11)(1084,0.11)(1086.8,0.33)(1089,0.33)(1091.2,0)(1092.6,-0.44)(1094,-0.22)(1095.1,-0.55)(1096.2,-0.44)}
\srs{c2}{(1098.9,-1.88)(1099.8,-1.0)(1100.9,-0.88)(1102.7,-1.43)(1104.5,-1.21)(1106.3,-1.0)(1107.7,-1.21)(1108.8,-1.1)(1109.9,-1.43)(1111.3,-1.55)(1112.8,-1.55)(1113.5,-1.88)(1114.9,-1.55)(1116.4,-1.66)(1117.8,-1.77)(1119.3,-1.7)(1120.3,-1.32)(1121.8,-1.32)(1122.9,-0.66)(1123.9,-0.77)(1125.4,-0.66)(1126.5,-0.66)(1127.8,-0.62)}
{(1098.9,-1.21)(1099.8,-1.55)(1100.9,-1.66)(1104.9,-1.66)(1106.3,-1.55)(1107.4,-1.21)(1108.5,-1.88)(1109.9,-1.66)(1112,-1.55)(1115.6,-1.43)(1119.3,-1.26)(1122.1,-1.21)(1122.9,-0.44)(1124.3,-0.66)(1125.7,-0.66)(1127.8,-0.66)}
{(1098.9,-0.88)(1100.5,-0.73)(1101.9,-0.88)(1105.6,-0.66)(1107.7,-0.88)(1109.2,-1.1)(1112.8,-0.88)(1116.4,-0.77)(1119.3,-0.66)(1122.1,-0.44)(1122.9,0.33)(1125,0.11)(1127.8,0.11)}
{(1098.9,-2.54)(1100.5,-2.21)(1101.9,-2.43)(1104.9,-2.32)(1107,-2.21)(1108.5,-2.54)(1110.6,-2.54)(1113.5,-2.32)(1116.4,-2.21)(1119.3,-2.1)(1122.1,-1.77)(1123.6,-1.43)(1125.7,-1.39)(1127.8,-1.32)}
\srs{c3}{(1133,0.22)(1134,-0.66)(1135.1,-1.1)(1135.8,-1.32)(1137.3,-1.32)(1138.4,-0.22)(1139.8,0.73)}
{(1133,0.11)(1134.4,-0.88)(1135.8,-1.66)(1137.6,-1.88)(1138.7,-0.44)(1139.8,-0.11)}
{(1132.6,0.77)(1133.7,0.11)(1134.4,0.55)(1137.3,0.33)(1138.4,0.66)(1139.8,0.77)}
{(1133.7,-0.88)(1135.1,-2.32)(1136.2,-2.37)(1137.6,-2.28)(1138.7,-1.0)(1139.8,-0.44)}
\srs{c4}{(1152.7,0)(1153.2,0.33)(1154.2,0.55)(1154.8,0.6)}
{(1152.7,-1.15)(1154.8,-1.15)}
{(1153.5,0.45)(1154.8,0.5)}
{(1153.5,-0.4)(1154.8,-0.6)}
\bl{black}{1096}{William}\bl{c2}{1127.8}{Ranulf}\bl{c3}{1139.8}{Geoffrey}\bl{c4}{1154.8}{Hugh}
\pn{Durham}
\end{axis}
% ---------------- London
\begin{axis}[pan,lft,at={(42pt,263.59pt)}]
\zl
\dts{black}{(1085.4,2.95)(1086.3,2.95)(1088.1,2.95)(1089,2.95)(1089.9,2.95)(1093,2.95)(1095.6,2.95)(1098.9,2.95)(1099.8,2.95)(1100.5,2.95)(1100.9,2.95)(1102.3,2.95)(1102.8,2.95)(1103.3,2.95)(1103.7,2.95)(1104.1,2.95)(1106.8,2.95)}
\dts{c2}{(1108.8,2.95)(1110.8,2.95)(1113.1,2.95)(1113.9,2.95)(1114.6,2.95)(1118.2,2.95)(1120.9,2.95)(1122.7,2.95)(1123.1,2.95)}
\dts{c3}{(1130.6,2.95)(1131.3,2.95)(1132.2,2.95)}
\dts{c4}{(1141.2,2.95)(1147,2.95)(1147.5,2.95)(1148.1,2.95)(1148.8,2.95)}
\dts{c5}{(1152,2.95)(1152.8,2.95)(1153.6,2.95)}
\srs{black}{(1085,-1.88)(1085.8,-0.88)(1086.8,-0.44)(1088.1,0)(1089.4,0)(1090.8,0.22)(1092.2,0.55)(1093.3,0.66)(1094.8,0.44)(1096.2,0.88)(1097.3,1.1)(1098,1.28)(1099.1,0.93)(1100.2,0.88)(1101.6,1.1)(1103,1.21)(1104.5,1.72)(1105.9,1.6)(1106.7,1.77)(1107,1.99)}
{(1085,-1.55)(1086.5,-0.44)(1087.6,-0.11)(1089.4,0.22)(1090.8,0.44)(1093,0.66)(1095.1,0.88)(1096.2,1.1)(1097.3,1.21)(1098,1.43)(1099.4,1.1)(1101.6,1.55)(1104.5,1.66)(1105.9,1.55)(1107,1.72)}
{(1085,-0.77)(1086.5,0.44)(1088.6,0.93)(1090.8,1.1)(1094.4,1.32)(1095.9,1.43)(1097.3,1.66)(1098.7,1.99)(1100.2,1.66)(1101.6,2.32)(1104.5,2.43)(1107,2.32)}
{(1085,-1.32)(1086.5,-0.88)(1087.9,-0.22)(1090.1,-0.22)(1093,0)(1094.8,-0.22)(1096.2,0.22)(1097.6,0.44)(1098.7,0.33)(1100.9,0.44)(1103,1.1)(1105.6,1.1)(1107,1.1)}
\srs{c2}{(1108,-1.55)(1108.5,-0.55)(1109.5,0.11)(1110.8,0.77)(1111.7,0.49)(1112.4,1.59)(1113.9,1.66)(1115.3,1.43)(1116.7,1.21)(1118.2,0.99)(1119.6,1.28)(1121.1,1.43)(1122.2,1.43)(1123.2,1.99)(1124.7,1.59)(1125.9,1.55)}
{(1108,-1.1)(1109.5,-0.1)(1110.8,0.55)(1112.4,1.32)(1114.6,1.21)(1116.7,1.1)(1118.9,1.21)(1121.1,1.43)(1123.2,1.59)(1125.9,1.1)}
{(1108,-0.44)(1108.8,0.44)(1110.8,1.55)(1112.4,1.88)(1115.3,1.99)(1118.2,1.77)(1121.1,1.99)(1122.7,2.43)(1124.4,2.1)(1125.9,1.88)}
{(1108,-2.2)(1108.8,-1.1)(1110.8,-0.33)(1112.4,0.66)(1115.3,0.55)(1118.9,0.66)(1121.8,0.77)(1123.2,0.55)(1125.9,0.33)}
\srs{c3}{(1127.9,0.44)(1128.6,-0.66)(1129.4,-0.22)(1129.7,0.55)(1131.1,0.49)(1132.6,0.22)(1133.7,0.55)}
{(1127.9,0.66)(1128.6,-0.22)(1129.7,0.44)(1131.1,0.22)(1133.7,0.22)}
{(1127.9,0.88)(1129,0.77)(1130.4,1.0)(1132.6,0.88)(1133.7,1.43)}
{(1127.9,-0.11)(1128.8,-1.1)(1130.1,-0.44)(1131.8,-0.55)(1133.7,-0.44)}
\srs{c4}{(1140.5,-0.44)(1141.6,-1.77)(1142.7,-0.33)(1143.8,-0.22)(1144.8,0.22)(1145.9,0.44)(1146.6,0.88)(1147.7,0.44)(1148.8,0.88)(1149.9,0.62)}
{(1140.5,-0.22)(1141.6,-0.66)(1142.7,-0.22)(1143.8,0.44)(1145.5,0.77)(1146.6,0.99)(1147.7,0.77)(1148.8,0.66)(1149.9,0.66)}
{(1140.5,0.66)(1141.6,0.22)(1143.4,1.1)(1146.3,1.55)(1148.4,1.32)(1149.9,0.88)}
{(1140.5,-0.77)(1142,-1.32)(1144.1,-0.44)(1146.3,0.22)(1148.4,0)(1149.9,-0.22)}
\srs{c5}{(1151.7,-0.82)(1152.8,-0.88)(1153.8,-0.84)(1154.9,-0.77)}
{(1151.7,-0.26)(1154.9,-0.18)}
{(1151.7,0.49)(1154.9,0.55)}
{(1151.7,0.49)(1151.7,0.49)}
\bl{black}{1106.8}{Maurice}\bl{c2}{1126.8}{Richard}\bl{c3}{1133.7}{Gilbert}\bl{c4}{1149.7}{Robert}\bl{c5}{1154.8}{Richard}
\pn{London}
\end{axis}
% ---------------- Hereford
\begin{axis}[pan,at={(321.75pt,263.59pt)}]
\zl
\dts{black}{(1108.8,2.95)(1111,2.95)(1114.9,2.95)}
\dts{c2}{(1121.8,2.95)(1122.5,2.95)(1123.2,2.95)(1124,2.95)(1124.7,2.95)(1126.3,2.95)}
\dts{c3}{(1131.2,2.95)(1131.9,2.95)(1133,2.95)(1135.8,2.95)(1136.6,2.95)(1137.6,2.95)(1138.4,2.95)(1140.7,2.95)(1144.8,2.95)(1147,2.95)(1147.5,2.95)}
\srs{black}{(1106.9,-1.1)(1107.7,-0.22)(1109.2,0)(1111,0.22)(1112.8,0.11)(1114.9,0.04)}
{(1106.9,-0.5)(1108,-0.77)(1109.9,-1.0)(1112.1,-0.88)(1113.5,-0.66)(1114.9,-0.55)}
{(1106.9,-0.44)(1107.7,-0.11)(1109.9,-0.18)(1114.9,0.22)}
{(1106.9,-1.21)(1107.7,-1.37)(1109.9,-1.43)(1114.9,-1.32)}
\srs{c2}{(1121.1,-2.16)(1122.1,-1.32)(1123.2,-0.44)(1123.9,0.11)(1125,0.04)(1126.8,0.04)}
{(1121.1,-1.99)(1122.5,-0.99)(1123.6,0)(1124.3,0)(1126.8,-0.22)}
{(1121.4,-0.66)(1123.2,0.66)(1125,0.71)(1126.8,0.71)}
{(1121.4,-1.99)(1122.8,-1.1)(1124.3,-0.66)(1126.8,-0.66)}
\srs{c3}{(1130.8,-0.66)(1132.2,-0.88)(1133.7,-0.55)(1135.1,-0.66)(1136.2,-0.33)(1137.3,0.44)(1138.4,1.1)(1139.4,0.44)(1140.9,0.44)(1142.3,0.66)(1143.8,0.84)(1144.8,0.44)(1146.3,0.77)(1147.7,0.55)}
{(1130.8,-0.77)(1132.6,-0.55)(1134.4,-0.4)(1136.2,-0.44)(1137.3,0.11)(1138,0.66)(1139.4,0.55)(1140.9,0.44)(1142.3,0.55)(1144.5,0.44)(1145.6,0.22)(1147.7,0.44)}
{(1130.8,0)(1133,0.22)(1134.4,0.44)(1137.3,0.93)(1138.7,0.66)(1140.9,1.0)(1143.8,1.06)(1145.2,0.88)(1147.7,1.21)}
{(1130.8,-1.55)(1133,-1.32)(1135.1,-0.99)(1137.3,-0.88)(1139.4,-0.44)(1141.2,-0.77)(1142.7,-0.44)(1144.5,-0.11)(1147.7,-0.33)}
\bl{black}{1114.9}{Reinhelm}\bl{c2}{1126.8}{Richard}\bl{c3}{1147.7}{Robert}
\pn{Hereford}
\end{axis}
% ---------------- St Davids
\begin{axis}[pan,lft,at={(42pt,189.98pt)}]
\zl
\dts{black}{(1114.8,2.95)(1117.8,2.95)(1118.5,2.95)(1120.3,2.95)(1121,2.95)(1121.7,2.95)(1122.5,2.95)(1123.2,2.95)(1123.9,2.95)(1124.7,2.95)(1125.4,2.95)(1126.1,2.95)(1127,2.95)(1128.8,2.95)(1130.3,2.95)(1131,2.95)(1131.8,2.95)(1132.6,2.95)(1135.7,2.95)(1136.4,2.95)(1137.1,2.95)(1137.8,2.95)(1140.7,2.95)}
\srs{black}{(1114.8,-2.16)(1115.7,-2.94)(1116.6,-3.22)(1117.5,-1.72)(1118.3,-1.61)(1119.6,-2.05)(1121,-1.83)(1122.5,-1.61)(1123.8,-0.73)(1125,-0.79)(1126.1,-0.73)(1127.6,-0.84)(1128.4,-0.51)(1129,-0.9)(1129.6,0.04)(1130.8,-0.07)(1132.2,-0.07)(1133,-0.18)(1134,-0.73)(1135.5,-0.84)(1136.9,-0.73)(1138.4,-0.51)(1139.7,0.15)(1140.5,0.09)(1141.6,0.6)(1142.7,0.7)(1144.1,0.93)(1144.8,1.1)(1145.9,0.88)(1146.9,0.97)(1147.7,0.86)}
{(1114.8,-1.5)(1115.7,-2.16)(1116.8,-2.16)(1117.8,-1.46)(1121,-1.5)(1123.6,-0.95)(1127,-0.95)(1128.4,-0.73)(1129.5,-0.18)(1132.2,-0.18)(1133.2,-0.4)(1135.5,-0.95)(1138.4,-0.84)(1139.8,-0.51)(1140.9,0.04)(1142.1,0.26)(1143.4,0.3)(1147.7,0.37)}
{(1114.8,-0.66)(1115.7,-1.5)(1116.8,-1.28)(1117.8,-0.79)(1120.3,-0.95)(1122.5,-0.79)(1123.9,-0.29)(1126.1,-0.4)(1127.9,-0.07)(1129.5,0.37)(1131.7,0.37)(1133.1,0.26)(1134.2,-0.4)(1136,-0.4)(1138.4,-0.29)(1139.8,0.26)(1141.2,0.48)(1143,0.82)(1145.2,1.04)(1147.7,1.32)}
{(1114.8,-2.49)(1115.7,-2.94)(1116.8,-2.83)(1117.8,-2.05)(1120.3,-2.16)(1121.8,-2.0)(1124.7,-1.61)(1126.5,-1.61)(1128.4,-1.39)(1129,-1.06)(1130.1,-0.73)(1131.8,-0.73)(1133.2,-1.28)(1135.1,-1.54)(1136.9,-1.5)(1139.1,-1.17)(1140.5,-0.84)(1141.6,-0.62)(1143.4,-0.57)(1147.7,-0.57)}
\bl{black}{1147.6}{Bernard}
\pn{St Davids}
\end{axis}
% ---------------- Norwich
\begin{axis}[pan,at={(321.75pt,189.98pt)}]
\zl
\dts{black}{(1122.9,2.95)(1123.4,2.95)(1130.6,2.95)(1131.5,2.95)(1135.7,2.95)(1136.4,2.95)(1137.1,2.95)(1137.8,2.95)(1138.1,2.95)(1139.8,2.95)}
\dts{c2}{(1147,2.95)(1147.5,2.95)(1148,2.95)(1148.7,2.95)(1149.2,2.95)(1149.9,2.95)(1152.8,2.95)}
\srs{black}{(1120.9,-1.83)(1121.9,-2.16)(1122.7,-0.73)(1123.6,0.15)(1125,-0.62)(1126.5,-0.95)(1127.6,-1.06)(1128.6,-0.9)(1129.9,-0.79)(1131.2,-0.84)(1132.2,-0.51)(1132.9,0.26)(1133.7,-0.29)(1134.8,0.04)(1135.9,0.04)(1136.9,0.31)(1137.9,0.09)(1138.7,0.26)(1139.8,0.6)(1140.7,0.93)(1141.7,0.48)(1143,0.44)(1144.1,0.48)(1144.8,0.33)}
{(1120.9,-0.95)(1121.9,-0.95)(1122.7,-0.2)(1123.6,0.71)(1125,0.48)(1126.5,0.26)(1127.6,0.26)(1128.6,0.37)(1129.9,-0.22)(1131.2,-0.18)(1132.2,-0.13)(1133.7,0.04)(1135.9,0.09)(1138.7,0.15)(1139.8,0.37)(1140.7,0.82)(1141.7,0.26)(1144.8,0.31)}
{(1120.9,-0.22)(1121.9,-0.18)(1122.7,0.7)(1123.6,1.32)(1125.7,1.04)(1127.9,0.9)(1128.9,1.04)(1130.6,0.26)(1133.7,0.6)(1137.3,0.53)(1139.4,0.9)(1139.9,1.41)(1141.6,1.04)(1143.4,1.26)}
{(1120.9,-1.61)(1121.9,-2.16)(1122.9,-1.28)(1124.3,-0.4)(1126.5,-0.4)(1129.4,-0.51)(1132.2,-0.51)(1135.1,-0.35)(1138,-0.4)(1140.2,-0.18)(1141.7,-0.35)(1144.8,-0.51)}
\srs{c2}{(1145.9,-2.16)(1146.8,-2.12)(1147.7,-1.61)(1148.9,-0.44)(1150.1,-0.62)(1150.9,-1.17)(1152,-1.17)(1153.1,-1.17)(1153.8,-0.62)(1154.9,-0.84)}
{(1145.9,-1.28)(1147.7,-0.9)(1148.8,0.22)(1154.9,0.2)}
{(1145.9,-0.66)(1147.4,-0.2)(1148.4,0.82)(1151.7,0.82)(1154.9,0.88)}
{(1145.9,-3.6)(1154.9,-3.6)}
\bl{black}{1144.7}{Everard}\bl{c2}{1154.6}{William}
\pn{Norwich}
\end{axis}
% ---------------- Carlisle
\begin{axis}[pan,lft,bot,at={(42pt,116.36pt)}]
\zl
\dts{black}{(1133,2.95)(1133.7,2.95)(1135.7,2.95)(1136.2,2.95)(1136.9,2.95)(1138.2,2.95)(1139.8,2.95)(1140.4,2.95)(1142.7,2.95)}
\srs{black}{(1132.6,-1.35)(1133.5,-1.52)(1134.4,-2.74)(1135.5,-2.74)(1136.6,-2.63)(1137.3,-2.4)(1137.8,-1.37)(1138.7,-1.41)(1139.8,-0.57)(1140.9,-0.57)(1141.6,-0.75)(1142.5,-0.09)(1143.4,-0.71)(1144.5,-0.71)(1145.6,-0.04)(1146.6,-0.09)(1147.7,0.57)(1148.8,0.13)(1149.9,-0.09)(1150.6,0.53)(1151.7,0.53)(1152.6,0.24)(1153.7,0.18)(1154.8,-0.42)}
{(1132.6,-1.15)(1133.7,-1.85)(1134.4,-2.4)(1135.5,-2.3)(1136.9,-2.19)(1137.9,-1.3)(1139.1,-0.86)(1140.9,-0.75)(1143.4,-0.86)(1147,-1.04)(1147.7,-0.31)(1149.9,-0.27)(1150.6,-0.75)(1152.1,-0.45)(1154.8,-0.31)}
{(1132.6,0.35)(1133.5,-0.97)(1134.7,-1.63)(1136.2,-1.52)(1137.6,-0.97)(1138.7,-0.53)(1139.4,0.09)(1141.6,0.13)(1143.4,-0.09)(1145.6,-0.04)(1147,-0.09)(1147.9,0.35)(1149.9,0.46)(1151.3,0.57)(1154.8,0.72)}
{(1132.6,-0.57)(1133.5,-1.63)(1134.2,-2.85)(1135.8,-2.91)(1137.3,-2.74)(1138.7,-1.52)(1140.1,-1.3)(1141.9,-1.63)(1143.8,-1.74)(1146.3,-1.85)(1147.7,-1.52)(1148.8,-1.19)(1150.6,-1.19)(1154.3,-1.19)}
\bl{black}{1154.6}{Adelulf}
\pn{Carlisle}
\end{axis}
% ---------------- Ely
\begin{axis}[pan,bot,at={(321.75pt,116.36pt)}]
\zl
\dts{black}{(1133.7,2.95)(1134.4,2.95)(1135,2.95)(1135.5,2.95)(1136.1,2.95)(1136.6,2.95)(1137.2,2.95)(1137.8,2.95)(1138.4,2.95)(1138.9,2.95)(1140.7,2.95)(1142.7,2.95)(1147.4,2.95)(1148,2.95)(1148.5,2.95)(1149.2,2.95)(1149.8,2.95)(1151.3,2.95)(1152.8,2.95)}
\srs{black}{(1132.8,1.77)(1133.8,1.33)(1135,0.13)(1136,0.62)(1137.3,0.62)(1137.9,1.55)(1138.9,1.27)(1139.8,1.66)(1141.2,1.44)(1143,1.4)(1144.5,1.22)(1145.6,1.0)(1146.3,1.18)(1147.4,1.0)(1148.4,0.9)(1149.5,0.35)(1150.6,0.24)(1151.7,0.46)(1152.8,0.24)(1153.8,0.24)(1154.9,0.35)}
{(1132.8,1.66)(1134,0.79)(1135.1,0.57)(1136.1,0.57)(1137.3,0.9)(1138.7,1.55)(1140.2,1.33)(1141.6,0.9)(1143.4,0.68)(1145.2,0.35)(1147,-0.09)(1147.7,0.24)(1148.4,-0.2)(1149.5,-0.2)(1150.6,0.13)(1152.4,0.13)(1154.9,0.24)}
{(1132.8,2.77)(1133.7,1.9)(1134.8,1.11)(1136.6,1.0)(1138,1.77)(1139.4,1.77)(1141.2,1.4)(1143.4,1.22)(1145.2,0.9)(1146.6,0.79)(1148,0.24)(1149.5,0.35)(1151.7,0.79)(1154.9,1.0)}
{(1132.8,1.22)(1134,0.35)(1135.1,0.13)(1136.6,-0.09)(1138,0.57)(1139.4,0.9)(1140.9,0.68)(1142.3,0.13)(1144.1,-0.42)(1145.9,-0.71)(1147.7,-0.64)(1149.2,-0.86)(1151.7,-0.42)(1154.9,-0.49)}
\bl{black}{1154.7}{Nigel}
\pn{Ely}
\end{axis}
\end{tikzpicture}
\end{document}
